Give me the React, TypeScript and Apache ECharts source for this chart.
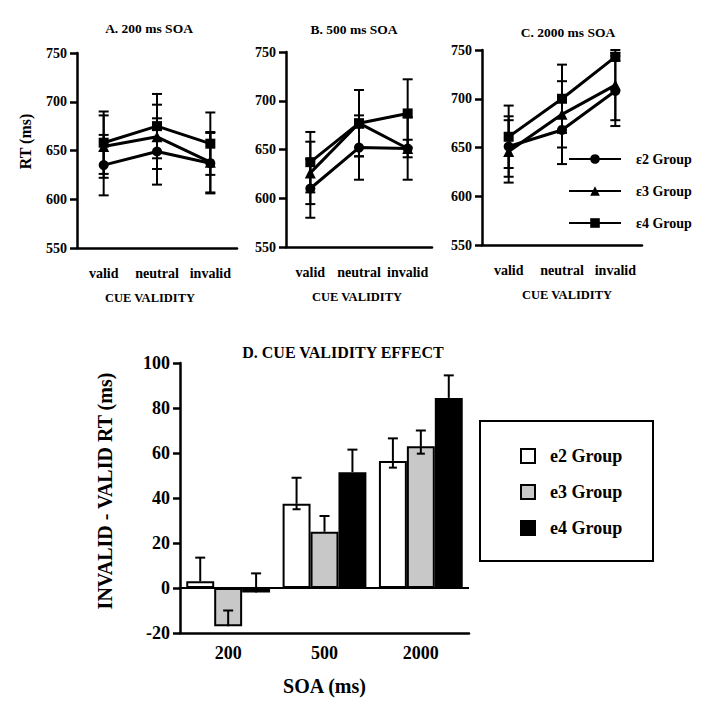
import React, { useEffect, useRef } from "react";
import * as echarts from "echarts";

// ---- Top panels (RT by cue validity) ----
const cueCategories = ["valid", "neutral", "invalid"];
const groupNames = ["ε2 Group", "ε3 Group", "ε4 Group"];
const panelTitles = ["A. 200 ms SOA", "B. 500 ms SOA", "C. 2000 ms SOA"];
const rtTicks = [550, 600, 650, 700, 750];

// Panel A: 200 ms SOA
const a200E2 = [635, 649, 637];
const a200E3 = [654, 664, 638];
const a200E4 = [658, 675, 657];
const a200E2Err = [31, 34, 31];
const a200E3Err = [32, 33, 31];
const a200E4Err = [32, 33, 32];

// Panel B: 500 ms SOA
const b500E2 = [610, 652, 651];
const b500E3 = [626, 677, 651];
const b500E4 = [637, 677, 687];
const b500E2Err = [30, 33, 32];
const b500E3Err = [32, 34, 9];
const b500E4Err = [31, 34, 35];

// Panel C: 2000 ms SOA
const c2000E2 = [651, 668, 708];
const c2000E3 = [646, 684, 714];
const c2000E4 = [661, 700, 743];
const c2000E2Err = [31, 35, 36];
const c2000E3Err = [32, 34, 36];
const c2000E4Err = [32, 35, 4];

// ---- Panel D (cue validity effect) ----
const soaCategories = ["200", "500", "2000"];
const barGroups = ["e2 Group", "e3 Group", "e4 Group"];
const e2Effect = [3, 37.5, 56.5];
const e3Effect = [-17, 25, 63];
const e4Effect = [-2, 51.5, 84.5];
const e2Sem = [10.5, 11.5, 10];
const e3Sem = [7, 7, 7];
const e4Sem = [8.5, 10, 10];
const e2LowStub = [0, 2.5, 3];
const e3LowStub = [0, 0, 3.3];
const e4LowStub = [0, 0, 0];

const FONT = "'Liberation Serif', 'Times New Roman', serif";
const BLACK = "#000000";

function lineErrSeries(axis: number, means: number[], errs: number[]) {
  return {
    type: "custom",
    xAxisIndex: axis,
    yAxisIndex: axis,
    silent: true,
    z: 1,
    encode: { x: 0, y: 1 },
    data: means.map((m, i) => [i, m, errs[i]]),
    renderItem: (params: any, api: any) => {
      const c = api.value(0);
      const m = api.value(1);
      const e = api.value(2);
      const hi = api.coord([c, m + e]);
      const lo = api.coord([c, m - e]);
      const w = 5;
      const st = { stroke: BLACK, lineWidth: 2 };
      return {
        type: "group",
        children: [
          { type: "line", shape: { x1: hi[0], y1: hi[1], x2: lo[0], y2: lo[1] }, style: st },
          { type: "line", shape: { x1: hi[0] - w, y1: hi[1], x2: hi[0] + w, y2: hi[1] }, style: st },
          { type: "line", shape: { x1: lo[0] - w, y1: lo[1], x2: lo[0] + w, y2: lo[1] }, style: st },
        ],
      };
    },
  };
}

function lineSeries(axis: number, name: string, data: number[], symbol: string, size: number) {
  return {
    type: "line",
    name,
    xAxisIndex: axis,
    yAxisIndex: axis,
    data,
    symbol,
    symbolSize: size,
    z: 3,
    lineStyle: { color: BLACK, width: 3 },
    itemStyle: { color: BLACK },
  };
}

function barErrSeries(idx: number, vals: number[], errs: number[], stubs: number[]) {
  return {
    type: "custom",
    xAxisIndex: 3,
    yAxisIndex: 3,
    silent: true,
    z: 5,
    encode: { x: 0, y: 1 },
    data: vals.map((v, i) => [i, v, errs[i], stubs[i]]),
    renderItem: (params: any, api: any) => {
      const c = api.value(0);
      const v = api.value(1);
      const e = api.value(2);
      const s = api.value(3);
      const band = api.size([1, 0])[0];
      const bw = (band * 0.87) / 3;
      const dx = (idx - 1) * bw;
      const p0 = api.coord([c, v]);
      const p1 = api.coord([c, v + e]);
      const x = p0[0] + dx;
      const st = { stroke: BLACK, lineWidth: 2 };
      const children: any[] = [
        { type: "line", shape: { x1: x, y1: p0[1], x2: x, y2: p1[1] }, style: st },
        { type: "line", shape: { x1: x - 5, y1: p1[1], x2: x + 5, y2: p1[1] }, style: st },
      ];
      if (s > 0) {
        const p2 = api.coord([c, v - s]);
        children.push({ type: "line", shape: { x1: x, y1: p0[1], x2: x, y2: p2[1] }, style: st });
        children.push({ type: "line", shape: { x1: x - 4, y1: p2[1], x2: x + 4, y2: p2[1] }, style: st });
      }
      return { type: "group", children };
    },
  };
}

function topXAxis(grid: number, namePad: number) {
  return {
    type: "category",
    gridIndex: grid,
    data: cueCategories,
    boundaryGap: true,
    name: "CUE VALIDITY",
    nameLocation: "middle",
    nameGap: 43,
    nameTextStyle: {
      fontFamily: FONT,
      fontWeight: "bold",
      fontSize: 12.5,
      color: BLACK,
      padding: [0, namePad > 0 ? 0 : -namePad, 0, namePad > 0 ? namePad : 0],
    },
    axisLine: { lineStyle: { color: BLACK, width: 2.5 } },
    axisTick: { alignWithLabel: true, length: 7, lineStyle: { color: BLACK, width: 2.5 } },
    axisLabel: {
      interval: 0,
      hideOverlap: false,
      margin: 18,
      fontFamily: FONT,
      fontWeight: "bold",
      fontSize: 14,
      color: BLACK,
    },
    splitLine: { show: false },
  };
}

function topYAxis(grid: number, withName: boolean) {
  return {
    type: "value",
    gridIndex: grid,
    min: rtTicks[0],
    max: rtTicks[rtTicks.length - 1],
    interval: 50,
    name: withName ? "RT (ms)" : "",
    nameLocation: "middle",
    nameRotate: 90,
    nameGap: 44,
    nameTextStyle: {
      fontFamily: FONT,
      fontWeight: "bold",
      fontSize: 16,
      color: BLACK,
      padding: [0, 0, 0, 18],
    },
    axisLine: { show: true, lineStyle: { color: BLACK, width: 2.5 } },
    axisTick: { show: true, length: 7, lineStyle: { color: BLACK, width: 2.5 } },
    axisLabel: { margin: 10, fontFamily: FONT, fontWeight: "bold", fontSize: 14, color: BLACK },
    splitLine: { show: false },
  };
}

export default function App() {
  const ref = useRef<HTMLDivElement>(null);
  useEffect(() => {
    if (!ref.current) return;
    const chart = echarts.init(ref.current, null, { renderer: "svg" });
    const titleFont = (size: number) => `bold ${size}px ${FONT}`;
    const option: any = {
      animation: false,
      backgroundColor: "#fff",
      color: [BLACK, BLACK, BLACK],
      grid: [
        { left: 77, top: 53, width: 160, height: 195 },
        { left: 286, top: 52, width: 146, height: 195 },
        { left: 482, top: 50, width: 160, height: 195 },
        { left: 180, top: 363, width: 289, height: 270 },
      ],
      xAxis: [
        topXAxis(0, -14),
        topXAxis(1, -4),
        topXAxis(2, 10),
        {
          type: "category",
          gridIndex: 3,
          data: soaCategories,
          boundaryGap: true,
          name: "SOA (ms)",
          nameLocation: "middle",
          nameGap: 43,
          nameTextStyle: { fontFamily: FONT, fontWeight: "bold", fontSize: 20, color: BLACK },
          axisLine: { onZero: false, lineStyle: { color: BLACK, width: 2.5 } },
          axisTick: { alignWithLabel: true, length: 7, lineStyle: { color: BLACK, width: 2.5 } },
          axisLabel: {
            interval: 0,
            margin: 11,
            fontFamily: FONT,
            fontWeight: "bold",
            fontSize: 18,
            color: BLACK,
          },
          splitLine: { show: false },
        },
      ],
      yAxis: [
        topYAxis(0, true),
        topYAxis(1, false),
        topYAxis(2, false),
        {
          type: "value",
          gridIndex: 3,
          min: -20,
          max: 100,
          interval: 20,
          name: "INVALID - VALID RT (ms)",
          nameLocation: "middle",
          nameRotate: 90,
          nameGap: 65,
          nameTextStyle: {
            fontFamily: FONT,
            fontWeight: "bold",
            fontSize: 20,
            color: BLACK,
            padding: [0, 0, 0, 14],
          },
          axisLine: { show: true, lineStyle: { color: BLACK, width: 2.5 } },
          axisTick: { show: true, length: 7, lineStyle: { color: BLACK, width: 2.5 } },
          axisLabel: { margin: 10, fontFamily: FONT, fontWeight: "bold", fontSize: 18, color: BLACK },
          splitLine: { show: false },
        },
      ],
      legend: [
        {
          data: groupNames,
          orient: "vertical",
          left: 568,
          top: 152,
          padding: 0,
          itemWidth: 52,
          itemHeight: 12,
          itemGap: 18,
          selectedMode: false,
          textStyle: {
            fontFamily: FONT,
            fontWeight: "bold",
            fontSize: 14,
            color: BLACK,
            padding: [0, 0, 0, 10],
          },
        },
        {
          data: barGroups,
          orient: "vertical",
          left: 520,
          top: 447,
          padding: 0,
          icon: "rect",
          itemWidth: 14,
          itemHeight: 14,
          itemGap: 18,
          selectedMode: false,
          textStyle: {
            fontFamily: FONT,
            fontWeight: "bold",
            fontSize: 18,
            color: BLACK,
            padding: [0, 0, 0, 10],
          },
        },
      ],
      graphic: [
        {
          type: "text",
          x: 149,
          y: 28,
          style: { text: panelTitles[0], font: titleFont(13.5), fill: BLACK, align: "center", verticalAlign: "middle" },
        },
        {
          type: "text",
          x: 354,
          y: 29,
          style: { text: panelTitles[1], font: titleFont(13.5), fill: BLACK, align: "center", verticalAlign: "middle" },
        },
        {
          type: "text",
          x: 568,
          y: 32,
          style: { text: panelTitles[2], font: titleFont(13.5), fill: BLACK, align: "center", verticalAlign: "middle" },
        },
        {
          type: "text",
          x: 343,
          y: 352,
          style: {
            text: "D. CUE VALIDITY EFFECT",
            font: titleFont(16),
            fill: BLACK,
            align: "center",
            verticalAlign: "middle",
          },
        },
        {
          type: "rect",
          shape: { x: 480, y: 421, width: 173, height: 140 },
          style: { fill: "none", stroke: BLACK, lineWidth: 2 },
        },
      ],
      series: [
        lineErrSeries(0, a200E2, a200E2Err),
        lineErrSeries(0, a200E3, a200E3Err),
        lineErrSeries(0, a200E4, a200E4Err),
        lineSeries(0, groupNames[0], a200E2, "circle", 10),
        lineSeries(0, groupNames[1], a200E3, "triangle", 11),
        lineSeries(0, groupNames[2], a200E4, "rect", 10),
        lineErrSeries(1, b500E2, b500E2Err),
        lineErrSeries(1, b500E3, b500E3Err),
        lineErrSeries(1, b500E4, b500E4Err),
        lineSeries(1, groupNames[0], b500E2, "circle", 10),
        lineSeries(1, groupNames[1], b500E3, "triangle", 11),
        lineSeries(1, groupNames[2], b500E4, "rect", 10),
        lineErrSeries(2, c2000E2, c2000E2Err),
        lineErrSeries(2, c2000E3, c2000E3Err),
        lineErrSeries(2, c2000E4, c2000E4Err),
        lineSeries(2, groupNames[0], c2000E2, "circle", 10),
        lineSeries(2, groupNames[1], c2000E3, "triangle", 11),
        lineSeries(2, groupNames[2], c2000E4, "rect", 10),
        {
          type: "bar",
          name: barGroups[0],
          xAxisIndex: 3,
          yAxisIndex: 3,
          data: e2Effect,
          barGap: "0%",
          barCategoryGap: "13%",
          itemStyle: { color: "#ffffff", borderColor: BLACK, borderWidth: 2 },
          markLine: {
            silent: true,
            symbol: "none",
            label: { show: false },
            lineStyle: { color: BLACK, width: 2, type: "solid" },
            data: [{ yAxis: 0 }],
          },
        },
        {
          type: "bar",
          name: barGroups[1],
          xAxisIndex: 3,
          yAxisIndex: 3,
          data: e3Effect,
          barGap: "0%",
          barCategoryGap: "13%",
          itemStyle: { color: "#c8c8c8", borderColor: BLACK, borderWidth: 2 },
        },
        {
          type: "bar",
          name: barGroups[2],
          xAxisIndex: 3,
          yAxisIndex: 3,
          data: e4Effect,
          barGap: "0%",
          barCategoryGap: "13%",
          itemStyle: { color: BLACK, borderColor: BLACK, borderWidth: 2 },
        },
        barErrSeries(0, e2Effect, e2Sem, e2LowStub),
        barErrSeries(1, e3Effect, e3Sem, e3LowStub),
        barErrSeries(2, e4Effect, e4Sem, e4LowStub),
      ],
    };
    chart.setOption(option);
    return () => chart.dispose();
  }, []);
  return (
    <div
      ref={ref}
      style={{ position: "fixed", left: 0, top: 0, width: 709, height: 711, background: "#fff" }}
    />
  );
}
